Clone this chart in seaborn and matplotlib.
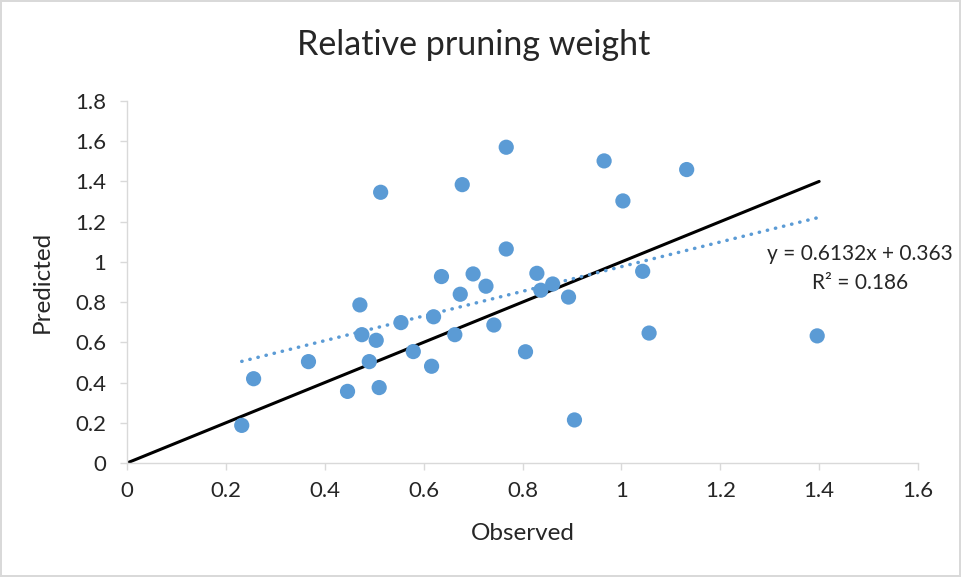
import numpy as np
import pandas as pd
import matplotlib
matplotlib.use("Agg")
import matplotlib.pyplot as plt
import seaborn as sns

# Observed vs predicted values
observed = [0.232, 0.256, 0.367, 0.446, 0.471, 0.475, 0.490, 0.504, 0.510, 0.513,
            0.554, 0.579, 0.616, 0.620, 0.636, 0.663, 0.674, 0.678, 0.700, 0.726,
            0.742, 0.767, 0.767, 0.806, 0.829, 0.837, 0.861, 0.893, 0.905, 0.965,
            1.003, 1.043, 1.056, 1.132, 1.396]
predicted = [0.187, 0.419, 0.504, 0.356, 0.786, 0.638, 0.504, 0.610, 0.375, 1.346,
             0.698, 0.554, 0.481, 0.727, 0.927, 0.638, 0.839, 1.384, 0.940, 0.879,
             0.686, 1.064, 1.570, 0.553, 0.943, 0.859, 0.890, 0.825, 0.214, 1.502,
             1.303, 0.953, 0.646, 1.459, 0.632]

# trendline and 1:1 line
slope = 0.6132
intercept = 0.363
r2 = 0.186
one_to_one = [0, 1.4]

x_ticks = [0, 0.2, 0.4, 0.6, 0.8, 1, 1.2, 1.4, 1.6]
y_ticks = [0, 0.2, 0.4, 0.6, 0.8, 1, 1.2, 1.4, 1.6, 1.8]

df = pd.DataFrame({"Observed": observed, "Predicted": predicted})

sns.set_style("white")
plt.rcParams["font.family"] = ["Lato", "DejaVu Sans"]

fig = plt.figure(figsize=(9.61, 5.77), dpi=100)
fig.patch.set_edgecolor("#d9d9d9")
fig.patch.set_linewidth(1.5)
ax = fig.add_axes([0.1322, 0.1976, 0.8231, 0.6274])

# 1:1 line
ax.plot(one_to_one, one_to_one, color="black", lw=2.2, zorder=2)

sns.scatterplot(data=df, x="Observed", y="Predicted", ax=ax, s=120,
                color="#5b9bd5", edgecolor="none", zorder=3)

# linear trendline over the data range
xs = np.array([min(observed), max(observed)])
ax.plot(xs, slope * xs + intercept, color="#5b9bd5", lw=2.5,
        linestyle=(0, (0.1, 2.3)), dash_capstyle="round", zorder=4)

ax.text(1.483, 1.04, f"y = {slope}x + {intercept}", ha="center", va="center",
        fontsize=15)
ax.text(1.483, 0.895, f"R² = {r2}", ha="center", va="center", fontsize=15)

ax.set_xlim(0, 1.6)
ax.set_ylim(0, 1.8)
ax.set_xticks(x_ticks)
ax.set_yticks(y_ticks)
ax.set_xticklabels([f"{t:g}" for t in x_ticks])
ax.set_yticklabels([f"{t:g}" for t in y_ticks])
ax.tick_params(axis="x", bottom=True, length=5, width=1, color="#d9d9d9",
               labelsize=16, pad=8)
ax.tick_params(axis="y", left=True, length=5, width=1, color="#d9d9d9",
               labelsize=16, pad=10)

for side in ["top", "right"]:
    ax.spines[side].set_visible(False)
for side in ["bottom", "left"]:
    ax.spines[side].set_color("#d9d9d9")
    ax.spines[side].set_linewidth(1)

ax.set_xlabel("Observed", fontsize=17.5, labelpad=16)
ax.set_ylabel("Predicted", fontsize=17.5, labelpad=16)
fig.text(0.4927, 0.922, "Relative pruning weight", ha="center", va="center",
         fontsize=24.5)

fig.savefig("out.png", dpi=100, edgecolor=fig.get_edgecolor())
